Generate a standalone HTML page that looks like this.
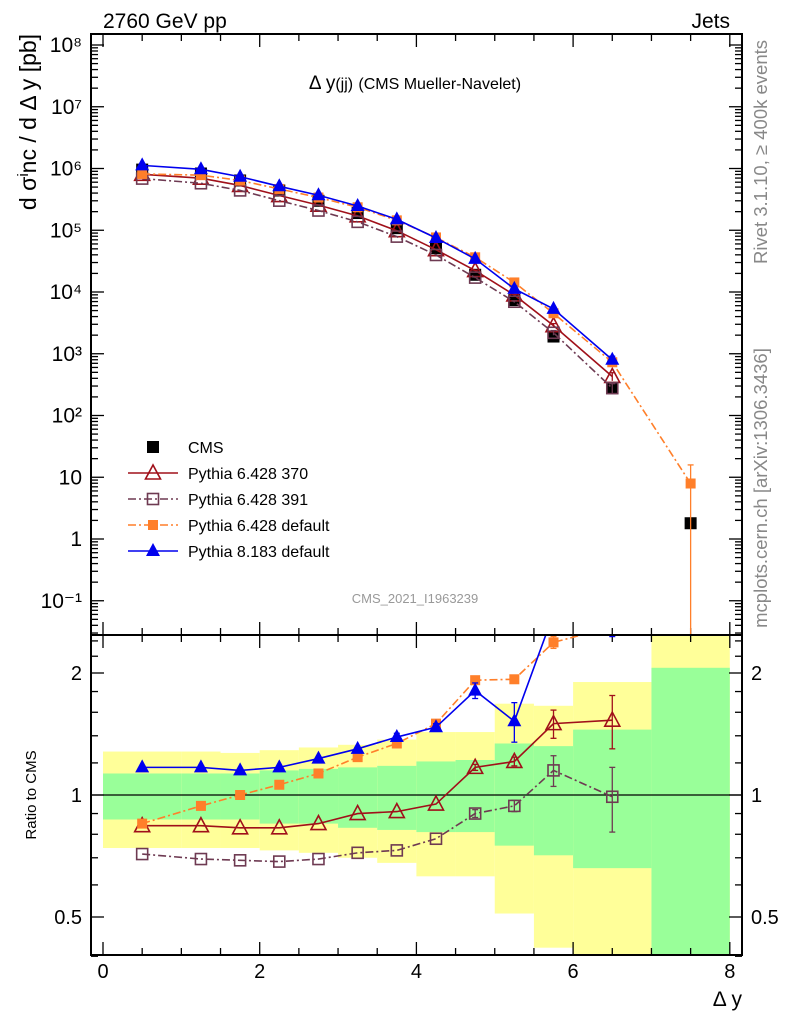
<!DOCTYPE html>
<html><head><meta charset="utf-8"><style>
html,body{margin:0;padding:0;background:#fff}
svg{display:block;font-family:"Liberation Sans",sans-serif}
</style></head><body>
<svg id="c" width="786" height="1024" viewBox="0 0 786 1024" xmlns="http://www.w3.org/2000/svg">
<defs>
<clipPath id="cm"><rect x="91" y="34" width="651" height="601"/></clipPath>
<clipPath id="cr"><rect x="91" y="635" width="651" height="320"/></clipPath>
</defs>
<g id="bands" clip-path="url(#cr)"></g>
<g id="ticks"></g>
<g id="series"></g>
<rect x="91" y="34" width="651" height="601" fill="none" stroke="#000" stroke-width="2"/>
<rect x="91" y="635" width="651" height="320" fill="none" stroke="#000" stroke-width="2"/>
<text x="103" y="28" font-size="21">2760 GeV pp</text>
<text x="730" y="28" font-size="21" text-anchor="end">Jets</text>
<text x="415" y="89" font-size="19" text-anchor="middle">Δ y<tspan font-size="16">(jj)</tspan> <tspan font-size="16">(CMS Mueller-Navelet)</tspan></text>
<text x="415" y="603" font-size="13" fill="#999" text-anchor="middle">CMS_2021_I1963239</text>
<text transform="translate(36,122) rotate(-90)" font-size="23" text-anchor="middle">d σ<tspan font-size="15" dy="-8">i</tspan><tspan dy="8">nc / d Δ y [pb]</tspan></text>
<text transform="translate(36,795) rotate(-90)" font-size="15" text-anchor="middle">Ratio to CMS</text>
<text x="742" y="1006" font-size="21" text-anchor="end">Δ y</text>
<text transform="translate(767,152) rotate(-90)" font-size="18.5" fill="#888" text-anchor="middle">Rivet 3.1.10, ≥ 400k events</text>
<text transform="translate(767,488) rotate(-90)" font-size="18.5" fill="#888" text-anchor="middle">mcplots.cern.ch [arXiv:1306.3436]</text>
<g id="legend"></g>
</svg>
<script>
const xCenters=[0.5,1.25,1.75,2.25,2.75,3.25,3.75,4.25,4.75,5.25,5.75,6.5,7.5];
const cmsValues=[9.6e5,8.3e5,6.4e5,4.4e5,3.0e5,1.9e5,1.08e5,5.1e4,1.9e4,7.4e3,1.9e3,2.8e2,1.8];
const ratio370=[0.84,0.84,0.83,0.83,0.85,0.90,0.91,0.95,1.17,1.21,1.50,1.53];
const ratio391=[0.715,0.695,0.69,0.685,0.695,0.72,0.73,0.78,0.90,0.94,1.15,0.99];
const ratioP6def=[0.85,0.94,1.0,1.06,1.13,1.24,1.34,1.50,1.92,1.93,2.38,2.6,4.4];
const ratioP8def=[1.17,1.17,1.15,1.17,1.23,1.30,1.39,1.47,1.81,1.52,2.8,2.86];
const ratioErr370=[0,0,0,0,0,0,0,0,0.02,0.03,0.12,0.23];
const ratioErr391=[0,0,0,0,0,0,0,0,0.02,0.03,0.10,0.18];
const ratioErrP6=[0,0,0,0,0,0,0,0.02,0.03,0.04,0.08,0.1,4.4];
const ratioErrP8=[0,0,0,0,0,0,0.03,0.03,0.08,0.17,0.1,0.4];
const binEdges=[0,1,1.5,2,2.5,3,3.5,4,4.5,5,5.5,6,7,8];
const bandTotHi=[1.28,1.28,1.27,1.29,1.31,1.33,1.37,1.43,1.43,1.68,1.66,1.90,3.0];
const bandTotLo=[0.74,0.74,0.74,0.73,0.72,0.70,0.68,0.63,0.63,0.51,0.42,0.3,0.3];
const bandStatHi=[1.13,1.13,1.13,1.15,1.16,1.17,1.18,1.21,1.22,1.34,1.32,1.45,2.06];
const bandStatLo=[0.87,0.87,0.87,0.85,0.85,0.83,0.82,0.81,0.81,0.75,0.71,0.66,0.3];
const xTickLabels=["0","2","4","6","8"];
const yTickLabels=["10⁸","10⁷","10⁶","10⁵","10⁴","10³","10²","10","1","10⁻¹"];
const ratioTickLabels=["0.5","1","2"];

const NS="http://www.w3.org/2000/svg";
const X=v=>103+78.35*v;
const Y=v=>45+61.75*(8-Math.log10(v));
const R=v=>795-122*Math.log2(v);
function mk(p,t,a){const e=document.createElementNS(NS,t);for(const k in a)e.setAttribute(k,a[k]);p.appendChild(e);return e;}
const bands=document.getElementById('bands'),ticks=document.getElementById('ticks'),series=document.getElementById('series'),legend=document.getElementById('legend');

for(let i=0;i<bandTotHi.length;i++){
  const x0=X(binEdges[i]),x1=X(binEdges[i+1]);
  const y=mk(bands,'rect',{x:x0,y:R(bandTotHi[i]),width:x1-x0,height:R(bandTotLo[i])-R(bandTotHi[i]),fill:'#ffff99'});
  
  
  const g=mk(bands,'rect',{x:x0,y:R(bandStatHi[i]),width:x1-x0,height:R(bandStatLo[i])-R(bandStatHi[i]),fill:'#99ff99'});
  
  
}
mk(bands,'line',{x1:91,x2:742,y1:R(1),y2:R(1),stroke:'#000','stroke-width':1.3});

for(let v=0;v<=8.001;v+=0.5){
  const maj=Math.abs(v-Math.round(v/2)*2)<1e-6;const L=maj?13:7;
  for(const [yb,dir] of [[635,-1],[34,1],[955,-1],[635,1]])
    mk(ticks,'line',{x1:X(v),x2:X(v),y1:yb,y2:yb+dir*L,stroke:'#000','stroke-width':1.3});
}
xTickLabels.forEach(s=>{const t=mk(ticks,'text',{x:X(+s),y:978,'font-size':20,'text-anchor':'middle'});t.textContent=s;

});
for(let d=-2;d<=8;d++){for(let m=1;m<=9;m++){const v=m*Math.pow(10,d);const y=Y(v);if(y<34||y>635)continue;const L=m==1?13:7;
  mk(ticks,'line',{x1:91,x2:91+L,y1:y,y2:y,stroke:'#000','stroke-width':1.3});
  mk(ticks,'line',{x1:742,x2:742-L,y1:y,y2:y,stroke:'#000','stroke-width':1.3});}}
yTickLabels.forEach((s,i)=>{const t=mk(ticks,'text',{x:82,y:Y(Math.pow(10,8-i))+7,'font-size':21,'text-anchor':'end'});t.textContent=s;

});
[0.4,0.5,0.6,0.7,0.8,0.9,1,1.2,1.4,1.6,1.8,2,2.2,2.4].forEach(v=>{const y=R(v);const L=(v==0.5||v==1||v==2)?13:7;
  mk(ticks,'line',{x1:91,x2:91+L,y1:y,y2:y,stroke:'#000','stroke-width':1.3});
  mk(ticks,'line',{x1:742,x2:742-L,y1:y,y2:y,stroke:'#000','stroke-width':1.3});});
ratioTickLabels.forEach(s=>{for(const [x,a] of [[82,'end'],[751,'start']]){const t=mk(ticks,'text',{x:x,y:R(+s)+7,'font-size':20,'text-anchor':a});t.textContent=s;

}});

function marker(g,type,x,y,col){
  if(type=='sq') mk(g,'rect',{x:x-6,y:y-6,width:12,height:12,fill:col});
  else if(type=='osq') mk(g,'rect',{x:x-5.5,y:y-5.5,width:11,height:11,fill:'none',stroke:col,'stroke-width':1.6});
  else if(type=='ssq') mk(g,'rect',{x:x-5,y:y-5,width:10,height:10,fill:col});
  else if(type=='tri') mk(g,'polygon',{points:`${x},${y-8} ${x-7},${y+5} ${x+7},${y+5}`,fill:col});
  else if(type=='otri') mk(g,'polygon',{points:`${x},${y-8} ${x-7.5},${y+6} ${x+7.5},${y+6}`,fill:'none',stroke:col,'stroke-width':1.6});
}
const models=[
 {name:'pythia-6428-370',lab:'Pythia 6.428 370',r:ratio370,e:ratioErr370,col:'#a0101a',m:'otri',dash:''},
 {name:'pythia-6428-391',lab:'Pythia 6.428 391',r:ratio391,e:ratioErr391,col:'#6e3a52',m:'osq',dash:'8,3,2,3'},
 {name:'pythia-6428-default',lab:'Pythia 6.428 default',r:ratioP6def,e:ratioErrP6,col:'#ff7f2a',m:'ssq',dash:'8,3,2,3'},
 {name:'pythia-8183-default',lab:'Pythia 8.183 default',r:ratioP8def,e:ratioErrP8,col:'#0000ee',m:'tri',dash:''}
];
const gm=mk(series,'g',{'clip-path':'url(#cm)'});
const gr=mk(series,'g',{'clip-path':'url(#cr)'});
cmsValues.forEach((v,i)=>{const g=mk(gm,'g',{});
marker(g,'sq',X(xCenters[i]),Y(v),'#000');});
models.forEach(md=>{
  const g=mk(gm,'g',{});
  
  const pts=md.r.map((r,i)=>[X(xCenters[i]),Y(r*cmsValues[i])]);
  mk(g,'polyline',{points:pts.map(p=>p.join(',')).join(' '),fill:'none',stroke:md.col,'stroke-width':1.6,'stroke-dasharray':md.dash});
  md.r.forEach((r,i)=>{const v=r*cmsValues[i];const e=md.e[i]*cmsValues[i];
    if(e>0){mk(g,'line',{x1:pts[i][0],x2:pts[i][0],y1:Y(v+e),y2:Math.min(700,Y(Math.max(v-e,1e-3))),stroke:md.col,'stroke-width':1.3});
      mk(g,'line',{x1:pts[i][0]-3,x2:pts[i][0]+3,y1:Y(v+e),y2:Y(v+e),stroke:md.col,'stroke-width':1.3});}
    marker(g,md.m,pts[i][0],pts[i][1],md.col);});
  const h=mk(gr,'g',{});
  
  const rp=md.r.map((r,i)=>[X(xCenters[i]),R(r)]);
  mk(h,'polyline',{points:rp.map(p=>p.join(',')).join(' '),fill:'none',stroke:md.col,'stroke-width':1.6,'stroke-dasharray':md.dash});
  md.r.forEach((r,i)=>{const e=md.e[i];
    if(e>0&&r<3){mk(h,'line',{x1:rp[i][0],x2:rp[i][0],y1:R(r+e),y2:R(Math.max(r-e,0.05)),stroke:md.col,'stroke-width':1.3});
      mk(h,'line',{x1:rp[i][0]-3,x2:rp[i][0]+3,y1:R(r+e),y2:R(r+e),stroke:md.col,'stroke-width':1.3});
      mk(h,'line',{x1:rp[i][0]-3,x2:rp[i][0]+3,y1:R(r-e),y2:R(r-e),stroke:md.col,'stroke-width':1.3});}
    marker(h,md.m,rp[i][0],rp[i][1],md.col);});
});
const items=[{lab:'CMS',m:'sq',col:'#000',line:false,name:'legend-cms'}].concat(models.map(m=>({lab:m.lab,m:m.m,col:m.col,line:true,dash:m.dash,name:'legend-'+m.name})));
items.forEach((it,i)=>{const y=447+26*i;const g=mk(legend,'g',{});
  
  
  if(it.line) mk(g,'line',{x1:128,x2:178,y1:y,y2:y,stroke:it.col,'stroke-width':1.6,'stroke-dasharray':it.dash});
  marker(g,it.m,153,y,it.col);
  const t=mk(g,'text',{x:188,y:y+6,'font-size':16});t.textContent=it.lab;});
</script>
</body></html>
